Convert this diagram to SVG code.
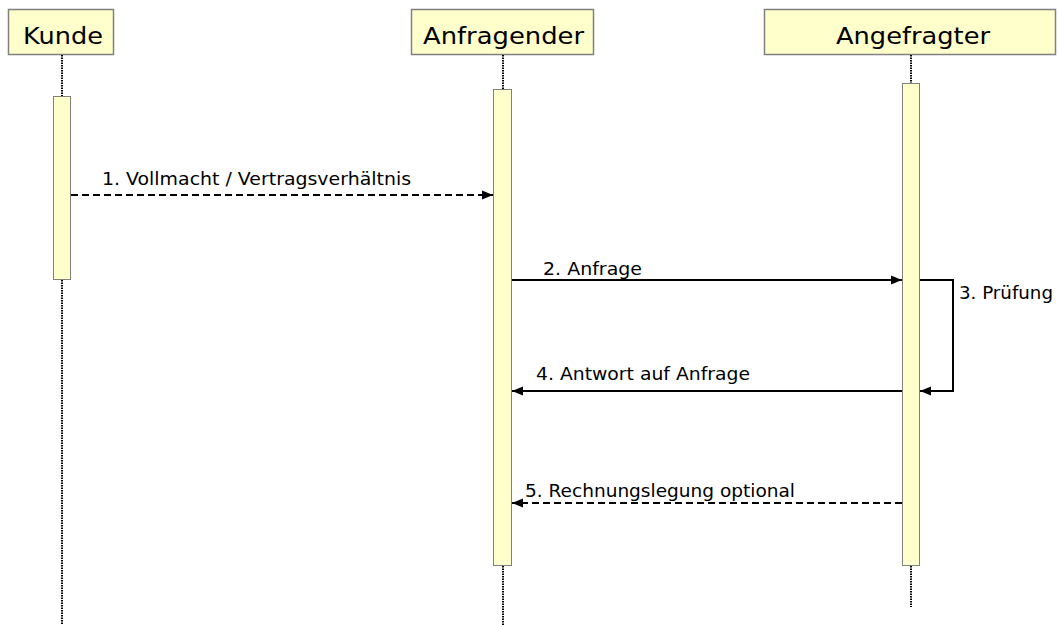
<svg xmlns="http://www.w3.org/2000/svg" width="1060" height="625" viewBox="0 0 1060 625">
<style>
.hdr{fill:#ffffcc;stroke:#808080;stroke-width:1.5}
.act{fill:#ffffcc;stroke:#808080;stroke-width:1}
.life{stroke:#000;stroke-width:2;stroke-dasharray:1.5 1;fill:none}
.ht{font-family:"DejaVu Sans",Verdana,sans-serif;font-size:23px;fill:#000}
.lt{font-family:"DejaVu Sans",Verdana,sans-serif;font-size:17px;fill:#000}
.msg{stroke:#000;stroke-width:2;fill:none}
.dash{stroke-dasharray:7 4}
</style>
<defs>
<marker id="ah" markerWidth="12" markerHeight="12" refX="11" refY="6" orient="auto" markerUnits="userSpaceOnUse">
<path d="M0,1.5 L11,6 L0,10.5 Z" fill="#000"/>
</marker>
</defs>
<g id="kunde">
<rect class="hdr" x="8.5" y="9.5" width="105" height="45"/>
<text class="ht" x="23" y="44" textLength="80" lengthAdjust="spacingAndGlyphs">Kunde</text>
<line class="life" x1="62" y1="55" x2="62" y2="96"/>
<line class="life" x1="62" y1="280" x2="62" y2="625"/>
<rect class="act" x="53.5" y="96.5" width="17" height="183"/>
</g>
<g id="anfragender">
<rect class="hdr" x="411.5" y="9.5" width="182" height="45"/>
<text class="ht" x="423" y="44" textLength="161" lengthAdjust="spacingAndGlyphs">Anfragender</text>
<line class="life" x1="503" y1="55" x2="503" y2="89"/>
<line class="life" x1="503" y1="566" x2="503" y2="625"/>
<rect class="act" x="493.5" y="89.5" width="18" height="476"/>
</g>
<g id="angefragter">
<rect class="hdr" x="764.5" y="9.5" width="291" height="45"/>
<text class="ht" x="836" y="44" textLength="154" lengthAdjust="spacingAndGlyphs">Angefragter</text>
<line class="life" x1="911" y1="55" x2="911" y2="83"/>
<line class="life" x1="911" y1="566" x2="911" y2="607"/>
<rect class="act" x="902.5" y="83.5" width="17" height="482"/>
</g>
<g id="connectors">
<line class="msg dash" x1="71" y1="195" x2="493" y2="195" marker-end="url(#ah)"/>
<text class="lt" x="102" y="185" textLength="309" lengthAdjust="spacingAndGlyphs">1. Vollmacht / Vertragsverhältnis</text>
<line class="msg" x1="512" y1="280" x2="902" y2="280" marker-end="url(#ah)"/>
<text class="lt" x="543" y="275" textLength="99" lengthAdjust="spacingAndGlyphs">2. Anfrage</text>
<polyline class="msg" points="920,280 953,280 953,391 920,391" marker-end="url(#ah)"/>
<text class="lt" x="959" y="299" textLength="94" lengthAdjust="spacingAndGlyphs">3. Prüfung</text>
<line class="msg" x1="902" y1="391" x2="512" y2="391" marker-end="url(#ah)"/>
<text class="lt" x="536" y="380" textLength="214" lengthAdjust="spacingAndGlyphs">4. Antwort auf Anfrage</text>
<line class="msg dash" x1="902" y1="503" x2="512" y2="503" marker-end="url(#ah)"/>
<text class="lt" x="525" y="497" textLength="270" lengthAdjust="spacingAndGlyphs">5. Rechnungslegung optional</text>
</g>
</svg>
